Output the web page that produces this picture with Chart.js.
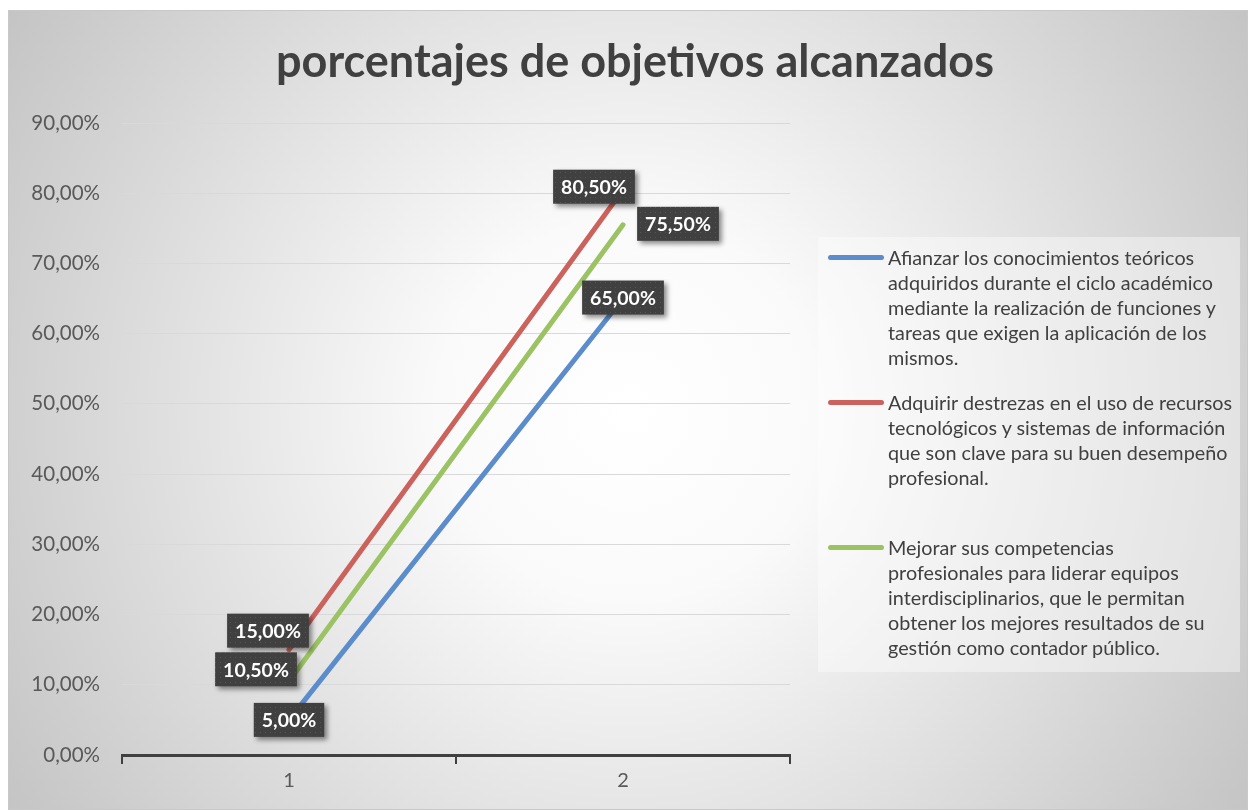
<!DOCTYPE html>
<html>
<head>
<meta charset="utf-8">
<script src="https://cdn.jsdelivr.net/npm/chart.js@4.4.0/dist/chart.umd.min.js"></script>
<style>
    html, body { margin: 0; padding: 0; background: #fff; width: 1248px; height: 810px; overflow: hidden; font-family: Lato, sans-serif; }
    #wrap { position: absolute; left: 8px; top: 10px; width: 1240px; height: 800px; }
    #legend { position: absolute; left: 810px; top: 227px; width: 422px; height: 435px; background: rgba(255,255,255,0.4); }
    .item { position: relative; height: 145px; }
    .sw { position: absolute; left: 10px; top: 18px; width: 56px; height: 5px; border-radius: 3px; }
    .txt { position: absolute; left: 70px; top: 8px; font-size: 19.8px; line-height: 25px; color: #404040; white-space: nowrap; }
</style>
</head>
<body>
<div id="wrap">
    <canvas id="chart" width="1240" height="800"></canvas>
    <div id="legend"></div>
</div>
<script>
// データ
const categories = ['1', '2'];
const seriesNames = [
    ['Afianzar los conocimientos teóricos', 'adquiridos durante el ciclo académico', 'mediante la realización de funciones y', 'tareas que exigen la aplicación de los', 'mismos.'],
    ['Adquirir destrezas en el uso de recursos', 'tecnológicos y sistemas de información', 'que son clave para su buen desempeño', 'profesional.'],
    ['Mejorar sus competencias', 'profesionales para liderar equipos', 'interdisciplinarios, que le permitan', 'obtener los mejores resultados de su', 'gestión como contador público.']
];
const afianzarValues = [5.0, 65.0];
const adquirirValues = [15.0, 80.5];
const mejorarValues = [10.5, 75.5];
const yTickValues = [0, 10, 20, 30, 40, 50, 60, 70, 80, 90];

const seriesColors = ['#5b8ccc', '#cc625c', '#9bc263'];
// ラベル位置（点からのずれ）
const labelOffsets = [
    [[0, 0], [0, -1]],
    [[-21, -19], [-29, -3]],
    [[-33, -12], [55, -1]]
];

function fmtPct(v) {
    return v.toFixed(2).replace('.', ',') + '%';
}

// 背景とタイトル
const backgroundPlugin = {
    id: 'bg',
    beforeDraw(chart) {
        const { ctx, width, height } = chart;
        const g = ctx.createRadialGradient(width * 0.5, height * 0.5, 0, width * 0.5, height * 0.5, 760);
        g.addColorStop(0, '#ffffff');
        g.addColorStop(0.25, '#fafafa');
        g.addColorStop(1, '#c2c2c2');
        ctx.save();
        ctx.fillStyle = g;
        ctx.fillRect(0, 0, width, height);
        ctx.strokeStyle = '#c8c8c8';
        ctx.lineWidth = 1;
        ctx.strokeRect(0.5, 0.5, width - 1, height - 1);
        ctx.fillStyle = '#404040';
        ctx.font = 'bold 45px Lato';
        ctx.textAlign = 'center';
        ctx.textBaseline = 'middle';
        ctx.fillText('porcentajes de objetivos alcanzados', 627, 52);
        ctx.restore();
    }
};

// データラベル
const labelPlugin = {
    id: 'labels',
    afterDatasetsDraw(chart) {
        const ctx = chart.ctx;
        const pc = document.createElement('canvas');
        pc.width = 5; pc.height = 5;
        const pctx = pc.getContext('2d');
        pctx.fillStyle = '#404040';
        pctx.fillRect(0, 0, 5, 5);
        pctx.fillStyle = '#555555';
        pctx.fillRect(2, 2, 1, 1);
        const pattern = ctx.createPattern(pc, 'repeat');
        ctx.save();
        ctx.font = 'bold 19.5px Lato';
        chart.data.datasets.forEach((ds, i) => {
            const meta = chart.getDatasetMeta(i);
            meta.data.forEach((pt, j) => {
                const text = fmtPct(ds.data[j]);
                const w = ctx.measureText(text).width + 16;
                const h = 34;
                const cx = pt.x + labelOffsets[i][j][0];
                const cy = pt.y + labelOffsets[i][j][1];
                ctx.shadowColor = 'rgba(0,0,0,0.45)';
                ctx.shadowBlur = 5;
                ctx.shadowOffsetX = 3;
                ctx.shadowOffsetY = 3;
                ctx.fillStyle = pattern;
                ctx.fillRect(cx - w / 2, cy - h / 2, w, h);
                ctx.shadowColor = 'transparent';
                ctx.fillStyle = '#ffffff';
                ctx.textAlign = 'center';
                ctx.textBaseline = 'middle';
                ctx.fillText(text, cx, cy + 1);
            });
        });
        ctx.restore();
    }
};

const ctx = document.getElementById('chart').getContext('2d');
const datasetValues = [afianzarValues, adquirirValues, mejorarValues];
const chart = new Chart(ctx, {
    type: 'line',
    data: {
        labels: categories,
        datasets: datasetValues.map((vals, i) => ({
            label: seriesNames[i],
            data: vals,
            borderColor: seriesColors[i],
            backgroundColor: seriesColors[i],
            borderWidth: 5,
            borderCapStyle: 'round',
            pointRadius: 0,
            fill: false
        }))
    },
    options: {
        responsive: false,
        animation: false,
        layout: { padding: { left: 0, right: 458, top: 113, bottom: 0 } },
        plugins: {
            legend: { display: false },
            title: { display: false },
            tooltip: { enabled: false }
        },
        scales: {
            x: {
                offset: true,
                afterFit(scale) { scale.height = 55; },
                grid: { offset: true, drawOnChartArea: false, color: '#404040', lineWidth: 2, tickLength: 9 },
                border: { display: true, color: '#404040', width: 3 },
                ticks: { color: '#595959', font: { family: 'Lato', size: 20 }, padding: 5 }
            },
            y: {
                min: 0,
                max: 90,
                afterFit(scale) { scale.width = 114; },
                afterBuildTicks(scale) { scale.ticks = yTickValues.map(v => ({ value: v })); },
                grid: { color: '#d9d9d9', lineWidth: 1, drawTicks: false },
                border: { display: false },
                ticks: {
                    color: '#595959',
                    font: { family: 'Lato', size: 20.5 },
                    padding: 22,
                    callback: v => fmtPct(v)
                }
            }
        }
    },
    plugins: [backgroundPlugin, labelPlugin]
});

// 凡例
const legendEl = document.getElementById('legend');
seriesNames.forEach((lines, i) => {
    const item = document.createElement('div');
    item.className = 'item';
    const sw = document.createElement('span');
    sw.className = 'sw';
    sw.style.background = seriesColors[i];
    const txt = document.createElement('div');
    txt.className = 'txt';
    txt.innerHTML = lines.join('<br>');
    item.appendChild(sw);
    item.appendChild(txt);
    legendEl.appendChild(item);
});
</script>
</body>
</html>
